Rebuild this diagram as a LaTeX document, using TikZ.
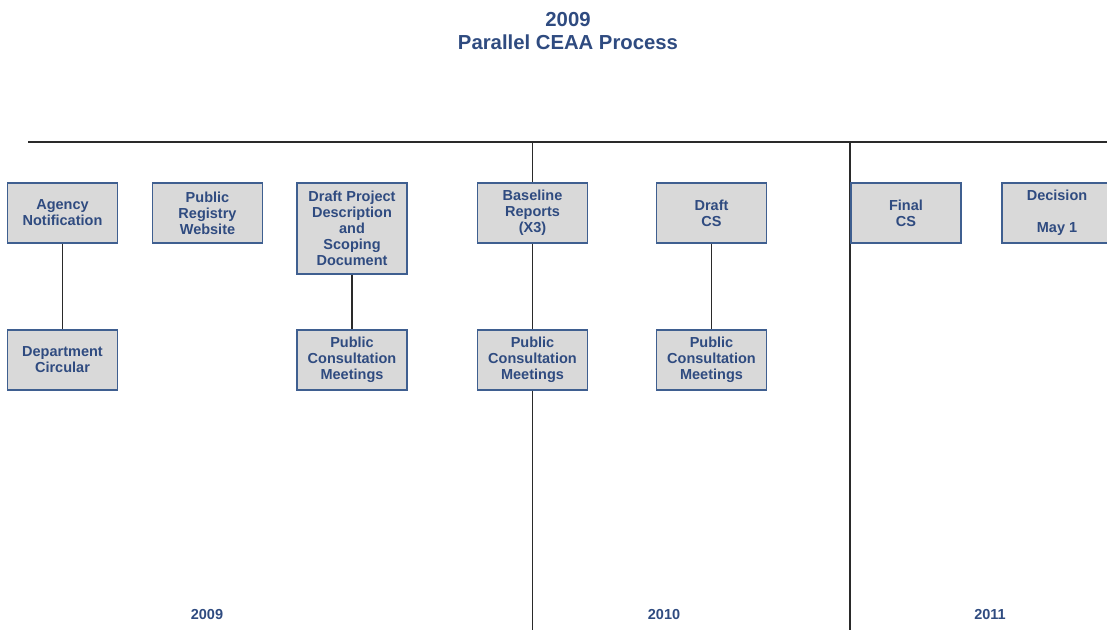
\documentclass[tikz,border=0pt]{standalone}
\usepackage{fontspec}
\setmainfont{Liberation Sans}
\usepackage{xcolor}
\usepackage{tikz}
\definecolor{ink}{HTML}{2F4B80}
\definecolor{boxline}{HTML}{3F5F90}
\definecolor{boxfill}{HTML}{D9D9D9}
\definecolor{rulecol}{HTML}{2A2A2A}
\tikzset{
  stage/.style={draw=boxline, fill=boxfill, line width=1.1pt, minimum width=110pt,
    minimum height=60pt, inner sep=0pt, align=center, text=ink,
    font=\fontsize{14.5}{16}\selectfont\bfseries},
  rule/.style={draw=rulecol, line width=1.4pt},
  year/.style={text=ink, font=\fontsize{14.5}{16}\selectfont\bfseries},
  head/.style={text=ink, align=center, font=\fontsize{20.3}{23}\selectfont\bfseries},
}
\begin{document}
\begin{tikzpicture}[x=1pt,y=-1pt]
  \useasboundingbox (0,0) rectangle (1107,630);
  \node[head] (title) at (568,31.5) {2009\\Parallel CEAA Process};
  % timeline
  \coordinate (tl) at (28,142);
  \coordinate (tr) at (1107,142);
  \coordinate (t2010) at (532.5,142);
  \coordinate (b2010) at (532.5,630);
  \coordinate (t2011) at (850,142);
  \coordinate (b2011) at (850,630);
  \draw[rule] (tl) -- (tr);
  \draw[rule] (t2011) -- (b2011);
  % top row
  \node[stage] (agency) at (62.5,213) {Agency\\Notification};
  \node[stage] (registry) at (207.5,213) {Public\\Registry\\Website};
  \node[stage, minimum height=91pt] (scoping) at (352,228.5) {Draft Project\\Description\\and\\Scoping\\Document};
  \node[stage] (baseline) at (532.5,213) {Baseline\\Reports\\(X3)};
  \node[stage] (draftcs) at (711.5,213) {Draft\\CS};
  \node[stage] (finalcs) at (906,213) {Final\\CS};
  \node[stage] (decision) at (1057,213) {Decision\\[16pt]May 1};
  % bottom row
  \node[stage] (circular) at (62.5,360) {Department\\Circular};
  \node[stage] (meet1) at (352,360) {Public\\Consultation\\Meetings};
  \node[stage] (meet2) at (532.5,360) {Public\\Consultation\\Meetings};
  \node[stage] (meet3) at (711.5,360) {Public\\Consultation\\Meetings};
  \draw[rule] (t2010) -- (baseline.north);
  \draw[rule] (agency) -- (circular);
  \draw[rule] (scoping) -- (meet1);
  \draw[rule] (baseline) -- (meet2);
  \draw[rule] (draftcs) -- (meet3);
  \draw[rule] (meet2.south) -- (b2010);
  \node[year] (y2009) at (207,614) {2009};
  \node[year] (y2010) at (664,614) {2010};
  \node[year] (y2011) at (990,614) {2011};
\end{tikzpicture}
\end{document}
